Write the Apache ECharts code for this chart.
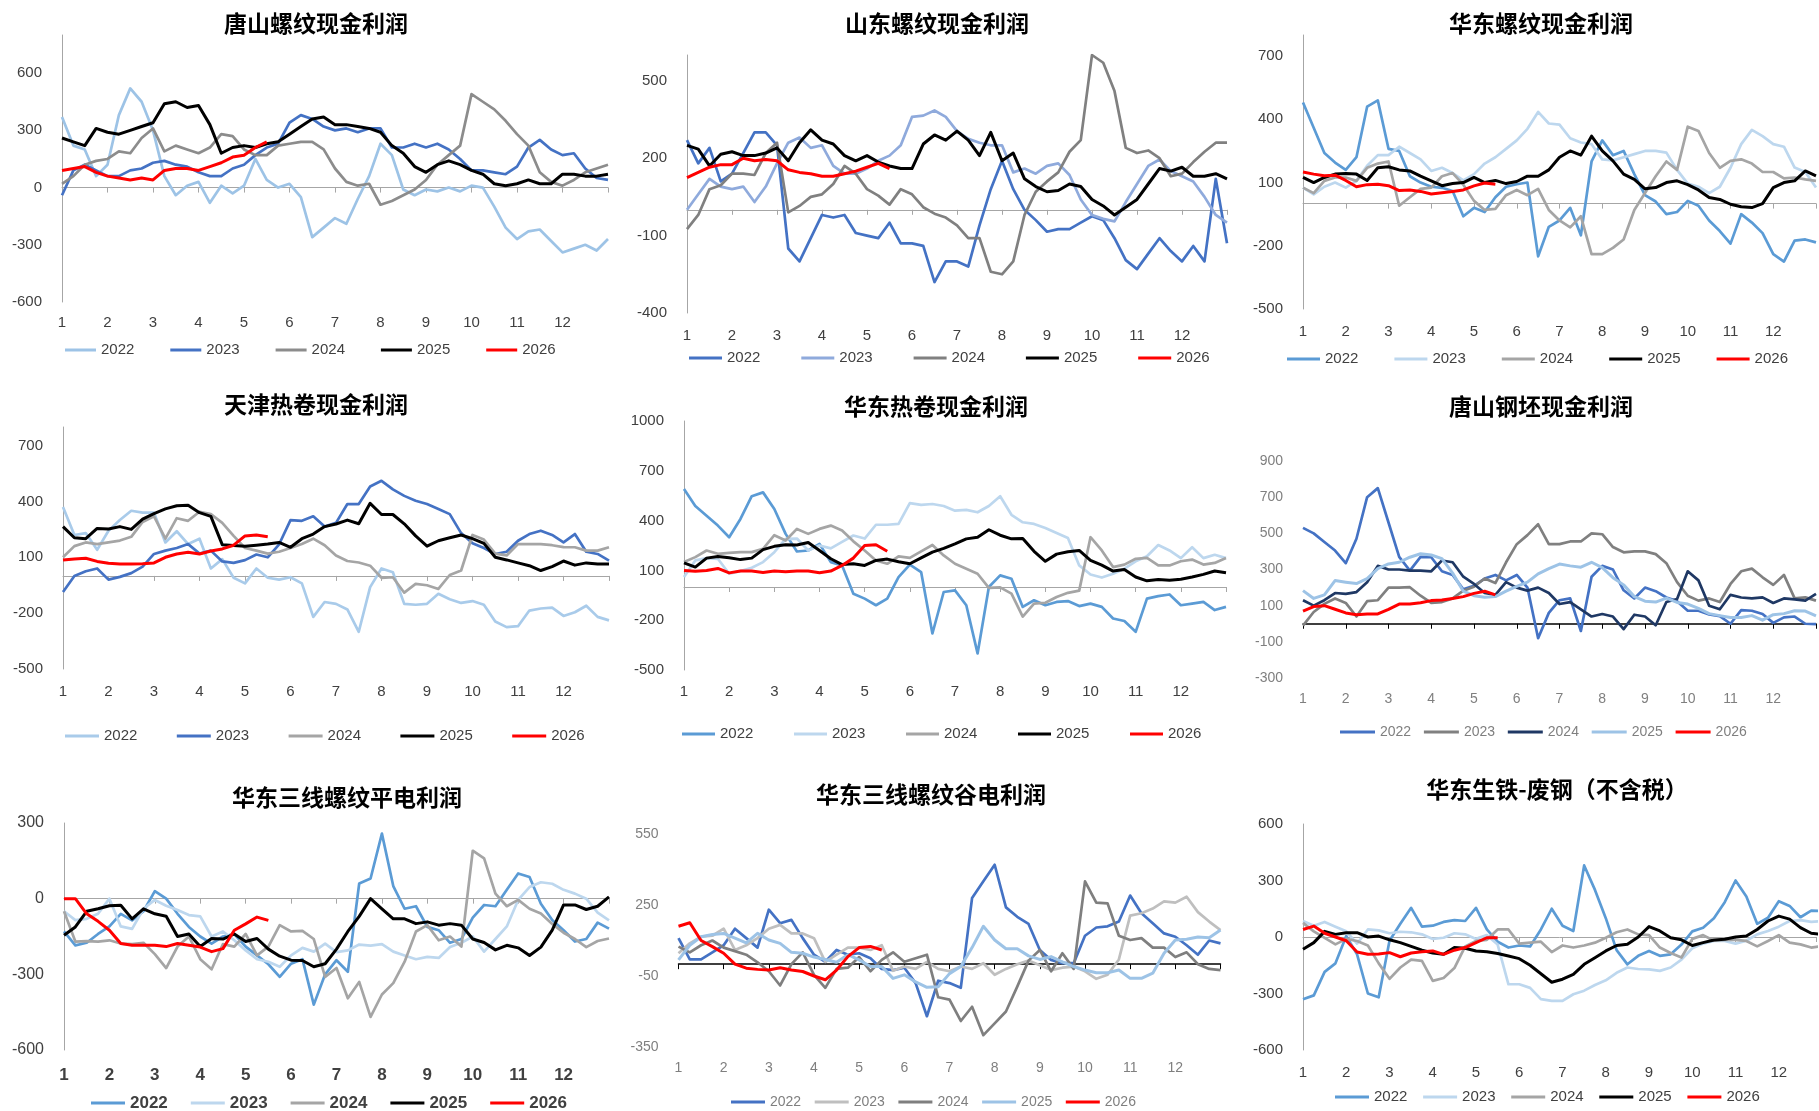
<!DOCTYPE html>
<html>
<head>
<meta charset="utf-8">
<title>钢材利润季节性</title>
<script src="https://cdn.jsdelivr.net/npm/echarts@6/dist/echarts.min.js"></script>
<style>
  html, body { margin: 0; padding: 0; background: #fff; overflow: hidden; width: 1819px; height: 1111px; }
  .panel { position: absolute; }
</style>
</head>
<body>
<div id="p1" class="panel" style="left:0px;top:0px;width:615px;height:371px"></div>
<div id="p2" class="panel" style="left:615px;top:0px;width:615px;height:371px"></div>
<div id="p3" class="panel" style="left:1230px;top:0px;width:589px;height:371px"></div>
<div id="p4" class="panel" style="left:0px;top:371px;width:615px;height:383px"></div>
<div id="p5" class="panel" style="left:615px;top:371px;width:615px;height:383px"></div>
<div id="p6" class="panel" style="left:1230px;top:371px;width:589px;height:383px"></div>
<div id="p7" class="panel" style="left:0px;top:754px;width:615px;height:357px"></div>
<div id="p8" class="panel" style="left:615px;top:754px;width:615px;height:357px"></div>
<div id="p9" class="panel" style="left:1230px;top:754px;width:589px;height:357px"></div>
<script>
// Seasonal profit curves: one value every quarter month, starting on month 1.
const YEARS = ['2022', '2023', '2024', '2025', '2026'];
const MONTH_TICKS = ['1', '2', '3', '4', '5', '6', '7', '8', '9', '10', '11', '12'];
const SAMPLE_STEP = 0.25;

// 唐山螺纹现金利润
const tsRebar2022 = [370,220,200,60,120,380,520,450,300,60,-40,10,30,-80,10,-30,10,150,40,0,20,-50,-260,-210,-160,-190,-60,60,230,170,-10,-40,-10,-20,0,-20,10,0,-100,-210,-270,-230,-220,-280,-340,-320,-300,-330,-270];
const tsRebar2023 = [-40,90,120,90,60,60,90,100,130,140,120,110,80,60,60,100,120,170,210,230,340,380,360,320,300,310,290,310,310,210,210,230,210,230,200,150,90,90,80,70,110,210,250,200,170,180,100,50,40];
const tsRebar2024 = [20,60,120,140,150,190,180,260,310,190,220,200,180,210,280,270,200,170,170,220,230,240,240,200,100,30,10,20,-90,-70,-40,-10,40,120,170,220,490,450,410,350,280,220,80,30,10,40,80,100,120];
const tsRebar2025 = [260,240,220,310,290,280,300,320,340,440,450,420,430,330,180,210,220,210,230,240,280,320,360,370,330,330,320,310,290,220,180,110,80,120,140,120,90,70,20,10,20,40,20,20,70,70,60,60,70];
const tsRebar2026 = [90,100,110,80,60,50,40,50,40,90,100,100,90,110,130,160,170,210,240];

// 山东螺纹现金利润
const sdRebar2022 = [270,180,240,110,140,220,300,300,250,-150,-200,-110,-20,-30,-20,-90,-100,-110,-50,-130,-130,-140,-280,-200,-200,-220,-60,80,190,80,0,-40,-85,-75,-75,-50,-25,-40,-110,-195,-230,-170,-110,-160,-200,-140,-200,120,-130];
const sdRebar2023 = [0,60,120,90,80,90,30,90,180,260,280,240,250,170,140,140,160,190,210,250,360,365,385,360,305,275,260,250,250,145,160,140,170,180,135,40,-20,-35,-45,30,100,170,195,150,130,110,50,-20,-50];
const sdRebar2024 = [-75,-20,80,95,140,140,135,220,260,-10,15,50,60,100,170,140,80,55,20,80,60,10,-15,-30,-60,-110,-110,-240,-250,-200,-20,70,110,145,225,270,600,570,460,240,220,230,200,130,140,185,225,260,260];
const sdRebar2025 = [250,235,170,215,225,210,210,220,240,190,260,310,270,255,210,190,210,185,170,160,160,255,290,270,305,270,210,300,190,220,120,90,70,75,100,90,40,15,-20,10,40,100,160,150,165,130,130,140,120];
const sdRebar2026 = [125,145,165,175,175,200,190,195,190,155,145,140,130,130,140,150,165,180,160];

// 华东螺纹现金利润
const ecRebar2022 = [480,360,240,195,160,220,460,490,260,250,130,100,80,75,60,-60,-20,-40,30,80,92,100,-250,-110,-80,-20,-150,200,300,230,250,140,40,10,-50,-40,13,-10,-80,-130,-190,-50,-90,-140,-240,-275,-176,-170,-184];
const ecRebar2023 = [76,44,80,100,76,108,180,230,230,270,240,210,155,170,145,110,140,190,220,260,300,355,435,380,375,310,290,282,210,205,220,235,250,250,242,160,95,80,50,80,170,282,350,320,282,270,171,150,76];
const ecRebar2024 = [76,50,108,124,124,108,170,190,200,-10,30,70,76,130,145,90,13,-30,-25,40,65,40,70,-30,-80,-113,-60,-240,-240,-210,-170,-30,50,130,200,160,365,345,240,170,203,210,190,150,150,120,124,115,108];
const ecRebar2025 = [124,100,124,140,143,140,110,170,175,160,155,130,108,85,95,100,124,100,110,95,105,130,130,160,220,250,230,320,250,203,140,115,70,76,100,108,90,65,29,20,-3,-15,-19,0,76,100,108,155,132];
const ecRebar2026 = [150,140,132,135,110,80,90,92,85,62,65,58,46,52,58,65,84,98,92];

// 天津热卷现金利润
const tjHrc2022 = [370,220,230,140,243,300,350,340,340,180,240,171,200,40,90,-10,-40,40,-10,-20,-7,-40,-220,-140,-150,-180,-300,-60,40,20,-150,-155,-150,-96,-125,-145,-135,-155,-245,-275,-270,-186,-175,-170,-215,-195,-160,-220,-239];
const tjHrc2023 = [-86,0,25,40,-20,-5,15,50,118,136,150,171,120,136,78,70,85,115,100,170,300,296,320,265,285,386,386,480,511,465,430,404,386,360,332,230,175,150,118,130,189,225,243,220,180,225,130,118,82];
const tjHrc2024 = [100,160,180,171,180,190,210,290,320,200,310,296,345,332,285,215,150,136,120,130,150,171,200,165,110,80,72,55,-10,-7,-90,-43,-50,-70,5,29,220,195,120,110,171,171,171,165,155,154,136,136,154];
const tjHrc2025 = [265,205,200,255,252,265,250,305,335,360,377,380,340,320,168,163,160,165,171,180,154,200,225,265,279,300,280,390,330,330,280,215,160,189,205,220,200,175,100,86,70,55,29,50,80,58,70,64,64];
const tjHrc2026 = [85,91,95,78,68,64,64,65,70,100,118,127,118,134,145,165,215,220,210];

// 华东热卷现金利润
const ecHrc2022 = [590,488,429,370,300,410,547,570,470,320,214,220,260,150,130,-40,-70,-110,-70,60,135,90,-280,-30,-20,-110,-400,0,70,50,-120,-80,-110,-90,-85,-115,-100,-120,-190,-205,-270,-70,-55,-45,-110,-100,-90,-139,-120];
const ecHrc2023 = [60,160,174,170,80,96,116,150,210,290,292,220,250,233,272,310,292,375,375,380,505,495,500,488,460,465,450,488,547,435,390,380,355,325,295,130,75,57,80,110,155,185,253,220,174,240,174,194,174];
const ecHrc2024 = [150,180,220,200,205,210,210,230,312,280,350,320,350,370,340,275,220,160,140,185,175,215,253,190,140,110,80,-5,-2,-40,-178,-100,-95,-60,-35,-22,300,220,120,135,170,175,130,130,155,165,135,145,174];
const ecHrc2025 = [145,120,174,184,176,165,174,225,245,255,253,268,220,170,135,140,130,160,168,152,140,175,210,233,260,290,300,345,312,290,292,215,155,198,212,220,160,132,96,106,60,37,45,40,47,60,76,96,86];
const ecHrc2026 = [100,95,100,112,85,96,96,88,96,92,96,96,86,96,130,174,250,255,215];

// 唐山钢坯现金利润
const tsBillet2022 = [530,500,452,405,335,470,700,750,560,370,294,370,368,290,270,190,210,250,270,240,270,200,-80,60,130,140,-40,260,320,300,185,140,200,180,145,125,72,72,52,42,0,75,72,54,5,35,40,0,-2];
const tsBillet2023 = [-10,65,110,140,115,40,125,130,200,200,202,155,115,120,140,183,205,250,225,340,440,490,550,440,440,455,455,500,495,424,395,400,400,385,335,230,155,128,140,120,220,290,305,257,215,270,140,146,128];
const tsBillet2024 = [130,100,130,170,165,175,230,320,300,300,294,294,290,350,340,260,220,170,160,230,200,183,200,170,109,120,80,40,54,40,-30,50,40,-8,120,137,290,240,100,80,160,145,140,146,115,140,135,128,165];
const tsBillet2025 = [183,140,160,239,230,222,250,305,331,340,368,387,380,360,280,180,155,146,150,180,207,230,276,305,330,320,313,340,310,255,215,150,125,120,142,118,109,85,56,45,35,35,45,20,50,56,72,70,44];
const tsBillet2026 = [70,95,100,80,60,50,54,54,80,109,109,116,128,131,140,150,168,180,160];

// 华东三线螺纹平电利润
const ecEafFlat2022 = [-130,-185,-175,-140,-110,-60,-86,-50,30,0,-60,-112,-150,-178,-150,-140,-190,-225,-260,-310,-258,-240,-420,-300,-244,-290,60,80,258,50,-40,-30,-112,-125,-175,-160,-75,-25,-30,35,100,86,-20,-85,-125,-170,-160,-95,-119];
const ecEafFlat2023 = [-50,-85,-80,-60,0,-110,-120,-40,-5,-28,-45,-65,-70,-150,-130,-165,-205,-240,-250,-270,-225,-195,-210,-178,-212,-205,-182,-186,-180,-210,-225,-240,-231,-235,-192,-175,-150,-210,-160,-110,-5,46,65,59,35,20,0,-55,-86];
const ecEafFlat2024 = [-50,-170,-168,-170,-165,-178,-180,-175,-220,-275,-190,-150,-240,-280,-180,-190,-140,-225,-190,-105,-130,-128,-160,-310,-275,-395,-330,-469,-380,-335,-250,-130,-105,-165,-150,-190,190,160,20,-30,-5,-40,-59,-100,-135,-160,-192,-168,-158];
const ecEafFlat2025 = [-145,-112,-50,-40,-28,-26,-80,-40,-60,-70,-150,-140,-190,-158,-160,-140,-170,-158,-200,-228,-244,-245,-270,-258,-200,-130,-70,0,-40,-80,-80,-99,-92,-105,-99,-105,-160,-174,-203,-185,-195,-225,-192,-125,-25,-25,-43,-30,7];
const ecEafFlat2026 = [0,0,-60,-90,-125,-178,-185,-185,-185,-190,-178,-185,-192,-210,-198,-125,-100,-73,-86];

// 华东三线螺纹谷电利润
const ecEafValley2022 = [110,20,20,50,80,150,110,70,230,173,187,110,40,10,60,40,46,25,-20,-25,-15,-80,-220,-70,-80,-100,280,350,420,240,200,170,60,18,4,4,120,155,160,180,290,215,173,130,116,80,40,100,88];
const ecEafValley2023 = [46,88,116,120,150,60,80,110,150,166,130,130,110,10,40,70,70,60,80,-28,-10,-20,10,-20,-30,-10,-20,4,-45,-20,0,15,-5,-25,-15,-10,-30,-62,-45,20,205,215,235,265,260,285,220,180,144];
const ecEafValley2024 = [74,50,80,100,70,55,40,8,-30,-90,0,50,-45,-100,-20,-15,30,-30,18,50,10,25,40,-140,-150,-240,-180,-300,-250,-200,-95,15,60,-30,46,-20,350,260,257,120,102,110,70,70,30,50,0,-20,-25];
const ecEafValley2025 = [18,80,116,125,130,110,90,130,102,88,50,46,30,20,8,40,18,-10,-10,-60,-45,-75,-98,-95,-40,-10,70,160,102,65,65,35,20,32,10,-10,-25,-36,-36,-25,-60,-60,-38,46,102,105,115,112,144];
const ecEafValley2026 = [160,175,100,74,46,0,-17,-22,-25,-15,-25,-31,-50,-66,-25,32,70,75,60];

// 华东生铁-废钢（不含税）
const ecIronScrap2022 = [-330,-310,-185,-140,5,-92,-300,-320,-20,70,155,55,60,80,90,85,155,40,-25,-56,-45,-50,40,150,60,32,380,250,100,-70,-145,-100,-74,-100,-92,-40,30,49,100,185,300,215,70,102,190,165,105,140,138];
const ecIronScrap2023 = [85,60,80,55,30,-35,40,35,20,28,25,14,-10,-4,20,14,-10,10,-40,-251,-251,-270,-330,-339,-339,-304,-285,-255,-230,-190,-162,-170,-172,-180,-162,-120,-60,-35,-21,-21,-35,-20,14,32,55,85,90,80,85];
const ecIronScrap2024 = [75,30,-5,-39,-10,-21,-45,-140,-222,-162,-120,-127,-233,-218,-165,-50,-21,-15,40,40,-35,-30,-25,-80,-45,-56,-45,-30,-4,25,40,14,10,-56,-85,-109,-10,10,-20,-15,-15,-21,-50,-21,10,-30,-39,-56,-48];
const ecIronScrap2025 = [-65,-30,30,14,23,23,0,5,-15,-30,-50,-70,-85,-92,-56,-60,-74,-78,-88,-101,-115,-150,-195,-240,-224,-198,-145,-110,-74,-45,-39,0,55,32,-4,-15,-45,-30,-16,-12,0,5,40,85,111,95,50,20,14];
const ecIronScrap2026 = [40,58,20,0,-20,-80,-92,-90,-83,-105,-85,-78,-74,-92,-70,-56,-30,-4,-4];

const NUM_FONT = '"Liberation Sans", Arial, sans-serif';
const TITLE_FONT = '"Noto Sans CJK SC", sans-serif';
const DARK = '#404040';
const GREY = '#7F7F7F';

const PANELS = [
  { id: 'p1', title: '唐山螺纹现金利润', titleX: 316, titleY: 23,
    data: [tsRebar2022, tsRebar2023, tsRebar2024, tsRebar2025, tsRebar2026],
    colors: ['#9DC3E6', '#4472C4', '#8C8C8C', '#000000', '#FF0000'],
    grid: { left: 62, top: 35, width: 546, height: 267 },
    yMin: -600, yMax: 800, yStep: 300, yLine: true, xLabelMargin: 13,
    zeroColor: '#A6A6A6', zeroWidth: 1, labelColor: DARK, labelSize: 15,
    legend: { x: 65, sp: 105.3, len: 31, y: 350, size: 15 } },
  { id: 'p2', title: '山东螺纹现金利润', titleX: 322, titleY: 23,
    data: [sdRebar2022, sdRebar2023, sdRebar2024, sdRebar2025, sdRebar2026],
    colors: ['#4472C4', '#8FAADC', '#808080', '#000000', '#FF0000'],
    grid: { left: 72, top: 55, width: 540, height: 258 },
    yMin: -400, yMax: 600, yStep: 300, yLine: true, xLabelMargin: 15,
    zeroColor: '#A6A6A6', zeroWidth: 1, labelColor: DARK, labelSize: 15,
    legend: { x: 74, sp: 112.3, len: 33, y: 358, size: 15 } },
  { id: 'p3', title: '华东螺纹现金利润', titleX: 311, titleY: 23,
    data: [ecRebar2022, ecRebar2023, ecRebar2024, ecRebar2025, ecRebar2026],
    colors: ['#5B9BD5', '#BDD7EE', '#A5A5A5', '#000000', '#FF0000'],
    grid: { left: 73, top: 35, width: 513, height: 274 },
    yMin: -500, yMax: 800, yStep: 300, yLine: true, xLabelMargin: 15,
    zeroColor: '#A6A6A6', zeroWidth: 1, labelColor: DARK, labelSize: 15,
    legend: { x: 57, sp: 107.4, len: 33, y: 359, size: 15 } },
  { id: 'p4', title: '天津热卷现金利润', titleX: 316, titleY: 33,
    data: [tjHrc2022, tjHrc2023, tjHrc2024, tjHrc2025, tjHrc2026],
    colors: ['#A9CBEA', '#4472C4', '#A5A5A5', '#000000', '#FF0000'],
    grid: { left: 63, top: 56, width: 546, height: 242 },
    yMin: -500, yMax: 800, yStep: 300, yLine: true, xLabelMargin: 15,
    zeroColor: '#A6A6A6', zeroWidth: 1, labelColor: DARK, labelSize: 15,
    legend: { x: 65, sp: 111.8, len: 34, y: 365, size: 15 } },
  { id: 'p5', title: '华东热卷现金利润', titleX: 321, titleY: 35,
    data: [ecHrc2022, ecHrc2023, ecHrc2024, ecHrc2025, ecHrc2026],
    colors: ['#5B9BD5', '#BDD7EE', '#A5A5A5', '#000000', '#FF0000'],
    grid: { left: 69, top: 50, width: 542, height: 249 },
    yMin: -500, yMax: 1000, yStep: 300, yLine: true, xLabelMargin: 14,
    zeroColor: '#A6A6A6', zeroWidth: 1, labelColor: DARK, labelSize: 15,
    legend: { x: 67, sp: 112, len: 33, y: 363, size: 15 } },
  { id: 'p6', title: '唐山钢坯现金利润', titleX: 311, titleY: 35,
    data: [tsBillet2022, tsBillet2023, tsBillet2024, tsBillet2025, tsBillet2026],
    colors: ['#4472C4', '#808080', '#1F3864', '#9DC3E6', '#FF0000'],
    grid: { left: 73, top: 90, width: 514, height: 217 },
    yMin: -300, yMax: 900, yStep: 200, yLine: false, xLabelMargin: 14,
    zeroColor: '#000000', zeroWidth: 1.5, labelColor: GREY, labelSize: 14,
    legend: { x: 110, sp: 83.9, len: 35, y: 361, size: 14 } },
  { id: 'p7', title: '华东三线螺纹平电利润', titleX: 347, titleY: 43,
    data: [ecEafFlat2022, ecEafFlat2023, ecEafFlat2024, ecEafFlat2025, ecEafFlat2026],
    colors: ['#5B9BD5', '#BDD7EE', '#A5A5A5', '#000000', '#FF0000'],
    grid: { left: 64, top: 69, width: 545, height: 227 },
    yMin: -600, yMax: 300, yStep: 300, yLine: true, xLabelMargin: 17,
    zeroColor: '#A6A6A6', zeroWidth: 1, labelColor: DARK, labelSize: 16, xBold: true, xLabelSize: 17,
    legend: { x: 91, sp: 99.8, len: 34, y: 349, size: 17, bold: true } },
  { id: 'p8', title: '华东三线螺纹谷电利润', titleX: 316, titleY: 40,
    data: [ecEafValley2022, ecEafValley2023, ecEafValley2024, ecEafValley2025, ecEafValley2026],
    colors: ['#4472C4', '#BFBFBF', '#7F7F7F', '#9DC3E6', '#FF0000'],
    grid: { left: 63.5, top: 80, width: 542, height: 213 },
    yMin: -350, yMax: 550, yStep: 300, yLine: false, xLabelMargin: 14,
    zeroColor: '#000000', zeroWidth: 1.5, labelColor: GREY, labelSize: 14,
    legend: { x: 116, sp: 83.7, len: 34, y: 348, size: 14 } },
  { id: 'p9', title: '华东生铁-废钢（不含税）', titleX: 327, titleY: 35,
    data: [ecIronScrap2022, ecIronScrap2023, ecIronScrap2024, ecIronScrap2025, ecIronScrap2026],
    colors: ['#5B9BD5', '#BDD7EE', '#A5A5A5', '#000000', '#FF0000'],
    grid: { left: 73, top: 70, width: 516, height: 226 }, xMax: 12.86,
    yMin: -600, yMax: 600, yStep: 300, yLine: true, xLabelMargin: 15,
    zeroColor: '#A6A6A6', zeroWidth: 1, labelColor: DARK, labelSize: 15,
    legend: { x: 105, sp: 88.1, len: 34, y: 343, size: 15 } }
];

function monthLabel(v) {
  const r = Math.round(v);
  return (Math.abs(v - r) < 1e-6 && r >= 1 && r <= 12) ? MONTH_TICKS[r - 1] : '';
}

function renderPanel(p) {
  const chart = echarts.init(document.getElementById(p.id), null, { renderer: 'canvas' });
  const xMax = p.xMax || 13;

  const series = p.data.map((vals, i) => ({
    name: YEARS[i],
    type: 'line',
    xAxisIndex: 0,
    yAxisIndex: 0,
    data: vals.map((v, k) => [1 + k * SAMPLE_STEP, v]),
    symbol: 'none',
    showSymbol: false,
    clip: true,
    silent: true,
    z: 2 + i,
    lineStyle: { color: p.colors[i], width: i >= 3 ? 3 : 2.7, join: 'round' },
    itemStyle: { color: p.colors[i] }
  }));

  // title and year key
  const graphics = [{
    type: 'text', x: p.titleX, y: p.titleY, z: 10,
    style: { text: p.title, fontSize: 23, fontWeight: 'bold', fontFamily: TITLE_FONT,
             fill: '#000', align: 'center', verticalAlign: 'middle' }
  }];
  YEARS.forEach((yr, i) => {
    const x0 = p.legend.x + i * p.legend.sp;
    graphics.push({
      type: 'line', z: 10,
      shape: { x1: x0, y1: p.legend.y, x2: x0 + p.legend.len, y2: p.legend.y },
      style: { stroke: p.colors[i], lineWidth: 3 }
    });
    graphics.push({
      type: 'text', x: x0 + p.legend.len + 5, y: p.legend.y, z: 10,
      style: { text: yr, fontSize: p.legend.size, fontWeight: p.legend.bold ? 'bold' : 'normal',
               fontFamily: NUM_FONT, fill: p.labelColor, align: 'left', verticalAlign: 'middle' }
    });
  });

  chart.setOption({
    animation: false,
    grid: Object.assign({ containLabel: false }, p.grid),
    xAxis: [
      {
        type: 'value', min: 1, max: xMax, interval: 1, position: 'bottom',
        axisLine: { show: true, onZero: true, lineStyle: { color: p.zeroColor, width: p.zeroWidth } },
        axisTick: { show: true, length: 5, lineStyle: { color: p.zeroColor, width: 1 } },
        axisLabel: { show: false },
        splitLine: { show: false }
      },
      {
        type: 'value', min: 1, max: xMax, interval: 1, position: 'bottom',
        axisLine: { show: false, onZero: false },
        axisTick: { show: false },
        splitLine: { show: false },
        axisLabel: {
          margin: p.xLabelMargin, color: p.labelColor, fontSize: p.xLabelSize || p.labelSize,
          fontWeight: p.xBold ? 'bold' : 'normal', fontFamily: NUM_FONT,
          formatter: monthLabel
        }
      }
    ],
    yAxis: {
      type: 'value', min: p.yMin, max: p.yMax, interval: 50,
      axisLine: { show: p.yLine, onZero: false, lineStyle: { color: '#A6A6A6', width: 1 } },
      axisTick: { show: false },
      splitLine: { show: false },
      axisLabel: {
        margin: 20, color: p.labelColor, fontSize: p.labelSize, fontFamily: NUM_FONT,
        formatter: (v) => {
          const r = (v - p.yMin) / p.yStep;
          return Math.abs(r - Math.round(r)) < 1e-6 ? String(Math.round(v)) : '';
        }
      }
    },
    series: series,
    graphic: graphics
  });
}

PANELS.forEach(renderPanel);
</script>
</body>
</html>
